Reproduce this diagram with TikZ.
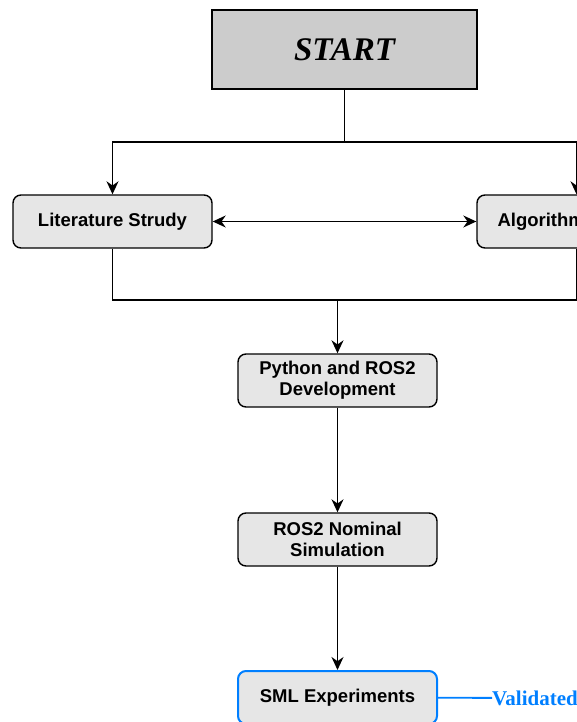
\documentclass[tikz,border=0pt]{standalone}
\usepackage{fontspec}
\setmainfont{Liberation Serif}
\setsansfont{Liberation Sans}
\usetikzlibrary{positioning, arrows.meta, calc}
\definecolor{BoxGray}{RGB}{230,230,230}
\definecolor{StartGray}{RGB}{204,204,204}
\definecolor{ValBlue}{RGB}{0,127,255}

\begin{document}
\begin{tikzpicture}[x=1pt, y=-1pt,
          bx/.style={rectangle, rounded corners=8pt, draw=black, fill=BoxGray,
                     line width=1.4pt, minimum width=199pt, minimum height=53pt,
                     align=center, font=\fontsize{18.5}{21}\selectfont\sffamily\bfseries},
          arr/.style={-{Stealth[length=13pt, width=12pt]}, line width=1.4pt},
          ln/.style={line width=1.4pt}
        ]
        \useasboundingbox (0,0) rectangle (577,722);
        \clip (0,0) rectangle (577,722);
        % START
        \node[rectangle, draw=black, fill=StartGray, line width=1.4pt,
              minimum width=265pt, minimum height=79pt,
              font=\fontsize{33}{38}\selectfont\rmfamily\bfseries\itshape]
              (start) at (344.5, 49.5) {START};
        \coordinate (topbus) at (344.5, 142);

        % first row
        \node[bx] (lit) at (112.5, 221.5) {Literature Strudy};
        \node[bx, text width=158pt, align=left, inner sep=0pt]
              (alg) at (576.5, 221.5) {Algorithm};
        \draw[ln] (start) -- (topbus);
        \draw[arr] (topbus) -| (lit);
        \draw[arr] (topbus) -| (alg);
        \draw[{Stealth[length=13pt, width=12pt]}-{Stealth[length=13pt, width=12pt]},
              line width=1.4pt] (lit) -- (alg);

        % merge
        \coordinate (botbus) at (337.5, 300);
        \draw[ln] (lit) |- (botbus);
        \draw[ln] (alg) |- (botbus);

        % chain
        \node[bx] (py)  at (337.5, 380.5) {Python and ROS2\\Development};
        \node[bx] (sim) at (337.5, 539.5) {ROS2 Nominal\\Simulation};
        \node[bx, draw=ValBlue, line width=2pt]
              (sml) at (337.5, 697.5) {SML Experiments};
        \draw[arr] (botbus) -- (py);
        \draw[arr] (py) -- (sim);
        \draw[arr] (sim) -- (sml);

        % result
        \node[anchor=west, inner sep=0pt, text=ValBlue,
              font=\fontsize{21}{24}\selectfont\rmfamily\bfseries]
              (val) at (492, 698) {Validated};
        \draw[ValBlue, line width=1.8pt] (sml) -- (val);
      \end{tikzpicture}
\end{document}
